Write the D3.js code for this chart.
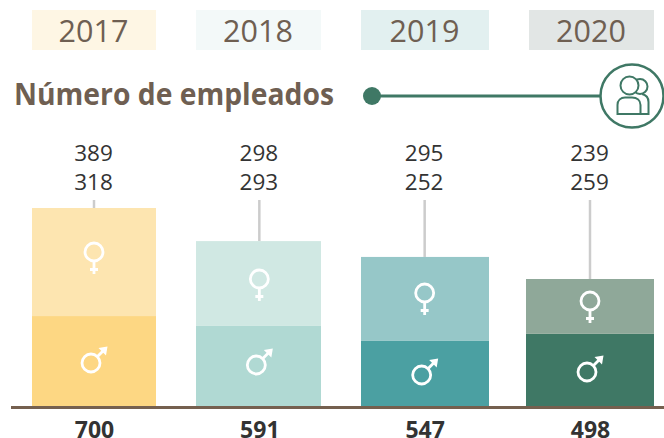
<!DOCTYPE html>
<html lang="es">
<head>
<meta charset="utf-8">
<title>Número de empleados</title>
<script src="https://cdn.jsdelivr.net/npm/d3@7"></script>
<style>
  html, body { margin: 0; padding: 0; background: #fff; }
  svg { display: block; }
  text { font-family: "Open Sans", sans-serif; }
</style>
</head>
<body>
<div id="chart"></div>
<script>
const years = ['2017', '2018', '2019', '2020'];
const totals = [700, 591, 547, 498];

// printed labels
const femaleLabels = [389, 298, 295, 239];
const maleLabels = [318, 293, 252, 259];

// bar segments as drawn, the source bars don't follow the printed numbers exactly
const femaleBars = [382, 300, 297, 194];
const maleBars = [318, 283, 230, 255];

const headerColors = ['#fef6e4', '#f3f9f9', '#e2f0f0', '#e2e6e5'];
const femaleColors = ['#fde5b0', '#d0e8e3', '#96c7c8', '#8fa899'];
const maleColors = ['#fdd783', '#b0d9d3', '#4ba0a2', '#3f7865'];

const width = 664;
const height = 438;
const baseY = 406;
const brown = '#6f5f52';
const green = '#3f7865';

const svg = d3.select('#chart')
  .append('svg')
  .attr('width', width)
  .attr('height', height);

const y = d3.scaleLinear().domain([0, 700]).range([baseY, 208]);
const center = d3.scalePoint().domain(years).range([94, 590]);
const left = d3.scaleOrdinal(years, [32, 196, 361, 526]);
const barWidth = d3.scaleOrdinal(years, [124, 125, 128, 128]);
const headLeft = d3.scaleOrdinal(years, [32, 196, 361, 529]);
const headWidth = d3.scaleOrdinal(years, [124, 125, 128, 125]);

// icon heights are hand placed in the source, not centred
const femaleIconY = d3.scaleOrdinal(years, [252, 279, 293, 301]);
const maleIconY = d3.scaleOrdinal(years, [363, 365, 375, 372]);

const rows = years.map((year, i) => ({
  year,
  total: totals[i],
  female: femaleBars[i],
  male: maleBars[i],
  femaleLabel: femaleLabels[i],
  maleLabel: maleLabels[i],
  header: headerColors[i],
  femaleColor: femaleColors[i],
  maleColor: maleColors[i]
}));

// Year headers
svg.selectAll('.header')
  .data(rows)
  .join('rect')
  .attr('class', 'header')
  .attr('x', d => headLeft(d.year))
  .attr('y', 10)
  .attr('width', d => headWidth(d.year))
  .attr('height', 40)
  .attr('fill', d => d.header);

svg.selectAll('.year')
  .data(rows)
  .join('text')
  .attr('class', 'year')
  .attr('x', d => headLeft(d.year) + headWidth(d.year) / 2 - 0.5)
  .attr('y', 42)
  .attr('text-anchor', 'middle')
  .attr('font-size', 30.5)
  .attr('fill', brown)
  .text(d => d.year);

// Title and connector
svg.append('text')
  .attr('x', 14)
  .attr('y', 105)
  .attr('font-size', 30)
  .attr('font-weight', 700)
  .attr('fill', brown)
  .attr('textLength', 320)
  .attr('lengthAdjust', 'spacingAndGlyphs')
  .text('Número de empleados');

svg.append('line')
  .attr('x1', 372)
  .attr('x2', 601)
  .attr('y1', 96)
  .attr('y2', 96)
  .attr('stroke', green)
  .attr('stroke-width', 3);

svg.append('circle')
  .attr('cx', 372)
  .attr('cy', 96)
  .attr('r', 9)
  .attr('fill', green);

const badge = svg.append('g').attr('transform', 'translate(632, 96)');

badge.append('circle')
  .attr('r', 31.5)
  .attr('fill', '#fff')
  .attr('stroke', green)
  .attr('stroke-width', 2.5);

// back person first, the front one covers it
badge.append('circle')
  .attr('cx', 8)
  .attr('cy', -9.5)
  .attr('r', 7.5)
  .attr('fill', '#fff')
  .attr('stroke', green)
  .attr('stroke-width', 2);

badge.append('path')
  .attr('d', 'M10,-2 C14.5,-1 16.5,2 16.5,6 V18 H8')
  .attr('fill', 'none')
  .attr('stroke', green)
  .attr('stroke-width', 2);

badge.append('path')
  .attr('d', 'M-14.5,18 V9 C-14.5,4 -11,1.5 -7,1.5 H0 C5,1.5 8.5,4.5 8.5,9 V18 Z')
  .attr('fill', '#fff')
  .attr('stroke', green)
  .attr('stroke-width', 2);

badge.append('circle')
  .attr('cx', -2.5)
  .attr('cy', -10.5)
  .attr('r', 9)
  .attr('fill', '#fff')
  .attr('stroke', green)
  .attr('stroke-width', 2);

// Leader lines
svg.selectAll('.leader')
  .data(rows)
  .join('line')
  .attr('class', 'leader')
  .attr('x1', d => center(d.year))
  .attr('x2', d => center(d.year))
  .attr('y1', 200)
  .attr('y2', d => y(d.male + d.female))
  .attr('stroke', '#cccccc')
  .attr('stroke-width', 2.5);

// Stacked bars
svg.selectAll('.male')
  .data(rows)
  .join('rect')
  .attr('class', 'male')
  .attr('x', d => left(d.year))
  .attr('width', d => barWidth(d.year))
  .attr('y', d => y(d.male))
  .attr('height', d => baseY - y(d.male))
  .attr('fill', d => d.maleColor);

svg.selectAll('.female')
  .data(rows)
  .join('rect')
  .attr('class', 'female')
  .attr('x', d => left(d.year))
  .attr('width', d => barWidth(d.year))
  .attr('y', d => y(d.male + d.female))
  .attr('height', d => y(d.male) - y(d.male + d.female))
  .attr('fill', d => d.femaleColor);

// Gender icons
const femaleIcon = svg.selectAll('.icon-f')
  .data(rows)
  .join('g')
  .attr('class', 'icon-f')
  .attr('transform', d => `translate(${center(d.year)}, ${femaleIconY(d.year)})`)
  .attr('fill', 'none')
  .attr('stroke', '#fff')
  .attr('stroke-width', 2.8);

femaleIcon.append('circle').attr('r', 9);
femaleIcon.append('path').attr('d', 'M0,9 V22');
femaleIcon.append('path').attr('d', 'M-4,17.5 H4').attr('stroke-width', 3);

const maleIcon = svg.selectAll('.icon-m')
  .data(rows)
  .join('g')
  .attr('class', 'icon-m')
  .attr('transform', d => `translate(${center(d.year) - 3}, ${maleIconY(d.year)})`)
  .attr('fill', 'none')
  .attr('stroke', '#fff')
  .attr('stroke-width', 2.8);

maleIcon.append('circle').attr('r', 9);
maleIcon.append('path').attr('d', 'M6.5,-6.5 L12,-12');
maleIcon.append('path')
  .attr('d', 'M7.5,-15 L16.5,-16.5 L15,-7.5 Z')
  .attr('fill', '#fff')
  .attr('stroke', 'none');

// Value labels
const labelRows = [
  { key: 'femaleLabel', y: 161 },
  { key: 'maleLabel', y: 190 }
];

labelRows.forEach(row => {
  svg.selectAll(`.${row.key}`)
    .data(rows)
    .join('text')
    .attr('class', row.key)
    .attr('x', d => center(d.year) - 0.5)
    .attr('y', row.y)
    .attr('text-anchor', 'middle')
    .attr('font-size', 22.5)
    .attr('fill', '#333')
    .text(d => d[row.key]);
});

// Baseline
svg.append('line')
  .attr('x1', 11)
  .attr('x2', width)
  .attr('y1', baseY + 1.5)
  .attr('y2', baseY + 1.5)
  .attr('stroke', '#75604f')
  .attr('stroke-width', 3);

// Totals under the bars
const axis = d3.axisBottom(center)
  .tickSize(0)
  .tickFormat((d, i) => totals[i]);

const axisG = svg.append('g')
  .attr('transform', `translate(0, ${baseY})`)
  .call(axis);

axisG.select('.domain').remove();

axisG.selectAll('text')
  .attr('y', 31.5)
  .attr('dy', 0)
  .attr('font-size', 23)
  .attr('font-weight', 700)
  .attr('font-family', '"Open Sans", sans-serif')
  .attr('fill', '#333');
</script>
</body>
</html>
